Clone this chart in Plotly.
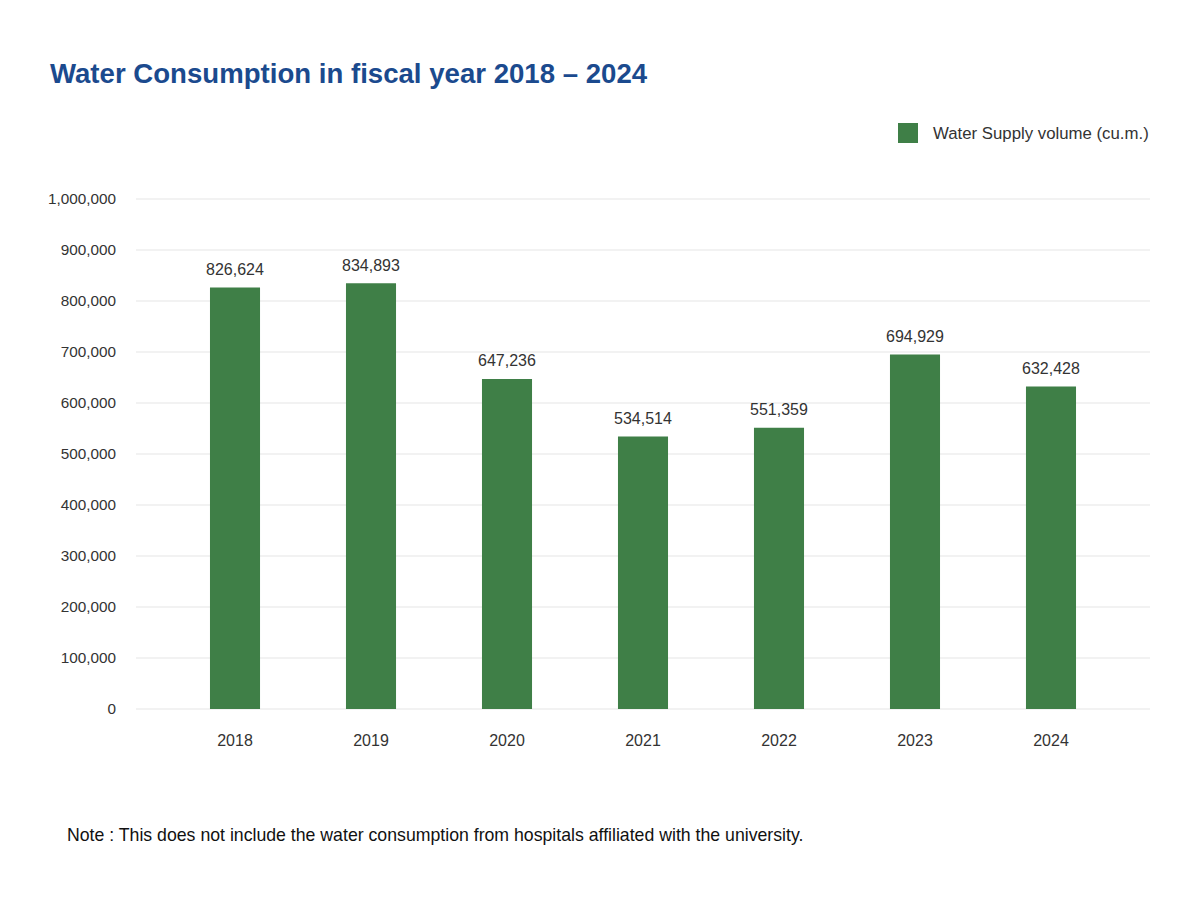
import plotly.graph_objects as go

years = ["2018", "2019", "2020", "2021", "2022", "2023", "2024"]
volumes = [826624, 834893, 647236, 534514, 551359, 694929, 632428]
y_ticks = [0, 100000, 200000, 300000, 400000, 500000, 600000, 700000, 800000, 900000, 1000000]
series_name = "Water Supply volume (cu.m.)"
note = "Note : This does not include the water consumption from hospitals affiliated with the university."

GREEN = "#3F7F47"
TEXT = "#333333"
FONT = "Liberation Sans, Arial, sans-serif"

# figure geometry (page is offset by 8px)
W, H = 1200, 900
L, R, T, B = 128, 58, 189, 199
pw, ph = W - L - R, H - T - B

def px(x):
    return (x - L) / pw

def py(y):
    return (H - B - y) / ph

fig = go.Figure()
fig.add_trace(go.Bar(
    x=years, y=volumes, name=series_name,
    marker=dict(color=GREEN, line=dict(width=0)),
    width=0.368, showlegend=False,
))

annotations = [
    dict(x=i, y=v, xref="x", yref="y", text=f"{v:,}", showarrow=False,
         yanchor="middle", yshift=18, font=dict(size=16, color=TEXT))
    for i, v in enumerate(volumes)
]
annotations.append(dict(text=series_name, x=px(923), xanchor="left", y=py(125), yanchor="middle",
                        xref="paper", yref="paper", showarrow=False,
                        font=dict(size=16.8, color=TEXT)))
annotations.append(dict(text=note, x=px(57), xanchor="left", y=py(827), yanchor="middle",
                        xref="paper", yref="paper", showarrow=False,
                        font=dict(size=17.7, color="#111111")))

fig.update_layout(
    width=W, height=H,
    paper_bgcolor="white", plot_bgcolor="white",
    margin=dict(l=L, r=R, t=T, b=B),
    font=dict(family=FONT, size=15, color=TEXT),
    title=dict(text="<b>Water Consumption in fiscal year 2018 – 2024</b>",
               x=42 / W, xanchor="left", y=1 - 65 / H, yanchor="middle",
               font=dict(size=27.6, color="#1B4A8E")),
    showlegend=False,
    xaxis=dict(type="category", range=[-0.728, 6.728], showgrid=False,
               showline=False, ticks="", tickfont=dict(size=16, color=TEXT),
               ticklabelstandoff=20),
    yaxis=dict(range=[0, 1004000], tickvals=y_ticks, tickformat=",",
               showgrid=True, gridcolor="#F2F2F2", gridwidth=2,
               zeroline=True, zerolinecolor="#F2F2F2", zerolinewidth=2,
               showline=False, ticks="", ticklabelstandoff=19,
               tickfont=dict(size=15.3, color=TEXT)),
    shapes=[dict(type="rect", xref="paper", yref="paper",
                 x0=px(890), x1=px(910), y0=py(135), y1=py(115),
                 fillcolor=GREEN, line=dict(width=0))],
    annotations=annotations,
)
fig.write_html("out.html")
